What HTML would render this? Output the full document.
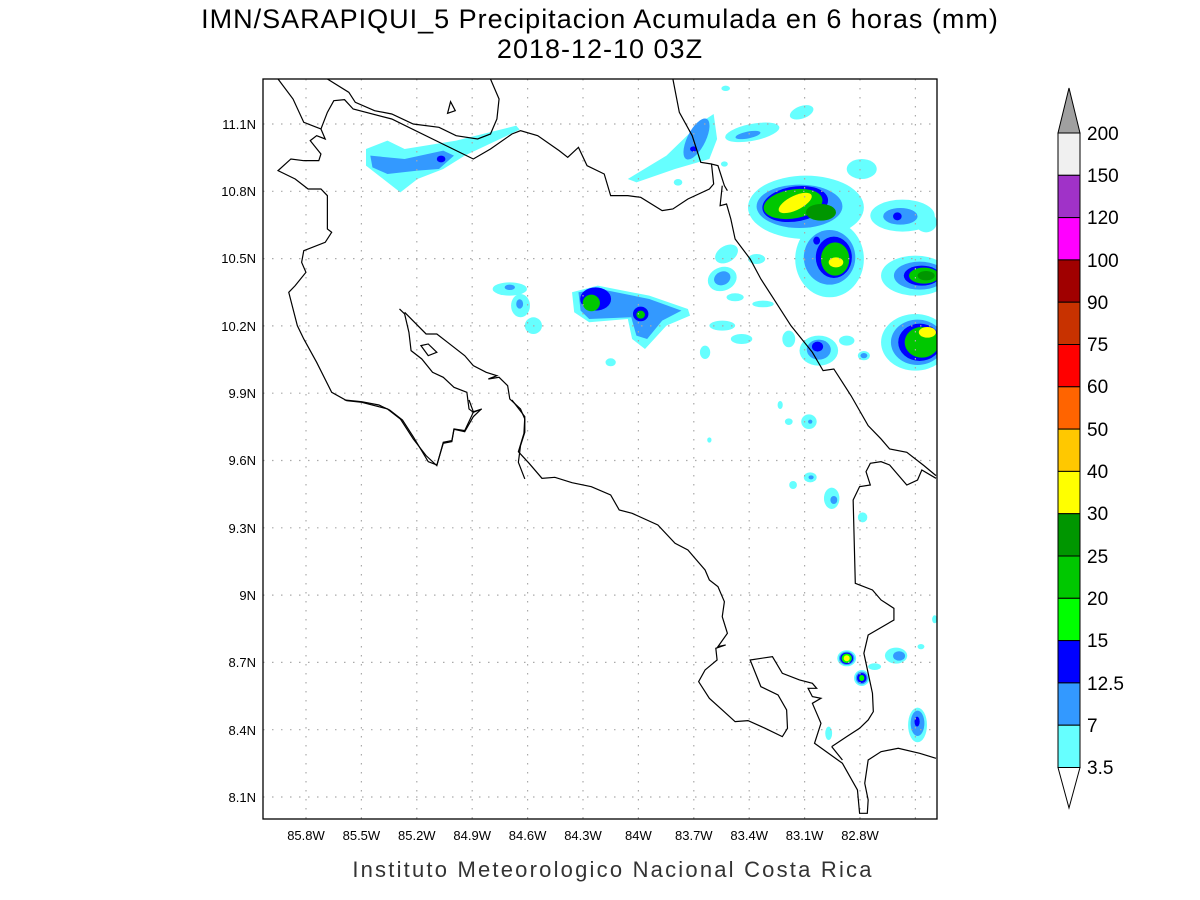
<!DOCTYPE html>
<html><head><meta charset="utf-8"><style>
html,body{margin:0;padding:0;background:#fff;}
svg{display:block;}
text{font-family:"Liberation Sans",sans-serif;}
</style></head><body>
<svg width="1200" height="900" viewBox="0 0 1200 900" xmlns="http://www.w3.org/2000/svg">
<rect width="1200" height="900" fill="#fff"/>
<text x="600" y="28" font-size="27" text-anchor="middle" fill="#000" letter-spacing="1">IMN/SARAPIQUI_5 Precipitacion Acumulada en 6 horas (mm)</text>
<text x="600" y="58" font-size="27" text-anchor="middle" fill="#000" letter-spacing="1">2018-12-10 03Z</text>

<defs><clipPath id="c"><rect x="263" y="79" width="674" height="740"/></clipPath></defs>
<g clip-path="url(#c)">
<g transform="translate(263,79) scale(0.4292,0.3333)">
<g fill="#66ffff">
<polygon points="240,210 290,185 330,210 450,185 590,140 598,152 470,230 420,270 360,300 320,340 280,300 240,260"/>
<polygon points="850,300 940,230 1020,130 1050,105 1058,180 1040,240 960,270 870,310"/>
<ellipse cx="1140" cy="160" rx="65" ry="25" transform="rotate(-15 1140 160)"/>
<ellipse cx="1255" cy="100" rx="30" ry="18" transform="rotate(-30 1255 100)"/>
<ellipse cx="1395" cy="270" rx="35" ry="30"/>
<ellipse cx="1265" cy="385" rx="135" ry="95"/>
<ellipse cx="1320" cy="540" rx="80" ry="115"/>
<ellipse cx="1520" cy="590" rx="80" ry="60"/>
<ellipse cx="1520" cy="790" rx="80" ry="85"/>
<ellipse cx="1490" cy="410" rx="75" ry="48"/>
<polygon points="720,640 780,620 900,650 990,690 995,710 940,740 890,810 860,780 850,720 760,730 725,700"/>
<ellipse cx="575" cy="630" rx="40" ry="20"/>
<ellipse cx="600" cy="680" rx="22" ry="35"/>
<ellipse cx="630" cy="740" rx="20" ry="25"/>
<ellipse cx="1080" cy="525" rx="22" ry="32" transform="rotate(40 1080 525)"/>
<ellipse cx="1070" cy="600" rx="32" ry="38" transform="rotate(30 1070 600)"/>
<ellipse cx="1100" cy="655" rx="20" ry="12"/>
<ellipse cx="1150" cy="540" rx="20" ry="15"/>
<ellipse cx="1165" cy="675" rx="25" ry="10"/>
<ellipse cx="1070" cy="740" rx="30" ry="15"/>
<ellipse cx="1115" cy="780" rx="25" ry="15"/>
<ellipse cx="1030" cy="820" rx="12" ry="20"/>
<ellipse cx="1225" cy="780" rx="15" ry="25"/>
<ellipse cx="1295" cy="815" rx="45" ry="45"/>
<ellipse cx="1360" cy="785" rx="18" ry="15"/>
<ellipse cx="1400" cy="830" rx="14" ry="14"/>
<ellipse cx="810" cy="850" rx="12" ry="12"/>
<ellipse cx="1078" cy="28" rx="10" ry="8"/>
<ellipse cx="967" cy="310" rx="10" ry="10"/>
<ellipse cx="1075" cy="255" rx="8" ry="8"/>
<ellipse cx="1545" cy="430" rx="25" ry="30"/>
</g>
<g fill="#3399ff">
<polygon points="250,230 330,240 420,215 445,230 410,270 360,275 290,285 255,265"/>
<ellipse cx="1010" cy="180" rx="22" ry="65" transform="rotate(20 1010 180)"/>
<ellipse cx="1130" cy="168" rx="30" ry="10" transform="rotate(-15 1130 168)"/>
<ellipse cx="1250" cy="382" rx="100" ry="65"/>
<ellipse cx="1320" cy="535" rx="60" ry="82"/>
<ellipse cx="1530" cy="590" rx="60" ry="42"/>
<ellipse cx="1525" cy="790" rx="62" ry="68"/>
<ellipse cx="1485" cy="412" rx="40" ry="25"/>
<polygon points="735,640 785,630 900,660 975,695 930,725 895,780 870,770 858,715 760,720 740,695"/>
<ellipse cx="1070" cy="598" rx="18" ry="22" transform="rotate(30 1070 598)"/>
<ellipse cx="1295" cy="812" rx="28" ry="30"/>
<ellipse cx="1400" cy="830" rx="8" ry="8"/>
<ellipse cx="575" cy="625" rx="12" ry="8"/>
<ellipse cx="598" cy="675" rx="8" ry="14"/>
</g>
<g fill="#0000ff">
<ellipse cx="415" cy="240" rx="10" ry="10"/>
<ellipse cx="1003" cy="210" rx="8" ry="8"/>
<ellipse cx="1240" cy="375" rx="78" ry="52" transform="rotate(-15 1240 375)"/>
<ellipse cx="1330" cy="535" rx="42" ry="62"/>
<ellipse cx="1535" cy="590" rx="42" ry="30"/>
<ellipse cx="1530" cy="790" rx="50" ry="56"/>
<ellipse cx="1478" cy="412" rx="10" ry="12"/>
<ellipse cx="775" cy="660" rx="36" ry="35"/>
<ellipse cx="880" cy="705" rx="18" ry="22"/>
<ellipse cx="1292" cy="803" rx="13" ry="15"/>
<ellipse cx="1290" cy="485" rx="8" ry="12"/>
</g>
<g fill="#00c800">
<ellipse cx="1235" cy="375" rx="70" ry="43" transform="rotate(-15 1235 375)"/>
<ellipse cx="1333" cy="540" rx="33" ry="50"/>
<ellipse cx="1540" cy="590" rx="35" ry="24"/>
<ellipse cx="1535" cy="790" rx="40" ry="46"/>
<ellipse cx="765" cy="672" rx="20" ry="25"/>
<ellipse cx="880" cy="707" rx="10" ry="12"/>
</g>
<g fill="#009600">
<ellipse cx="1300" cy="400" rx="35" ry="25"/>
<ellipse cx="1545" cy="590" rx="20" ry="14"/>
</g>
<g fill="#ffff00">
<ellipse cx="1240" cy="372" rx="45" ry="20" transform="rotate(-35 1240 372)"/>
<ellipse cx="1335" cy="550" rx="17" ry="15"/>
<ellipse cx="1548" cy="760" rx="20" ry="16"/>
</g>
</g>
<g transform="translate(263,400) scale(0.4292,0.3333)">
<g fill="#66ffff">
<ellipse cx="1205" cy="15" rx="6" ry="12"/>
<ellipse cx="1225" cy="65" rx="9" ry="10"/>
<ellipse cx="1272" cy="65" rx="18" ry="22"/>
<ellipse cx="1040" cy="120" rx="5" ry="8"/>
<ellipse cx="1275" cy="232" rx="15" ry="15"/>
<ellipse cx="1235" cy="255" rx="9" ry="12"/>
<ellipse cx="1325" cy="295" rx="18" ry="32"/>
<ellipse cx="1397" cy="352" rx="11" ry="15"/>
<ellipse cx="1360" cy="775" rx="22" ry="24"/>
<ellipse cx="1395" cy="834" rx="18" ry="24"/>
<ellipse cx="1475" cy="767" rx="26" ry="24"/>
<ellipse cx="1425" cy="800" rx="15" ry="10"/>
<ellipse cx="1525" cy="975" rx="22" ry="52"/>
<ellipse cx="1318" cy="1000" rx="8" ry="20"/>
<ellipse cx="1533" cy="740" rx="8" ry="8"/>
<ellipse cx="1565" cy="658" rx="6" ry="12"/>
</g>
<g fill="#3399ff">
<ellipse cx="1275" cy="65" rx="5" ry="6"/>
<ellipse cx="1277" cy="232" rx="6" ry="6"/>
<ellipse cx="1330" cy="300" rx="8" ry="12"/>
<ellipse cx="1360" cy="775" rx="18" ry="20"/>
<ellipse cx="1395" cy="834" rx="14" ry="19"/>
<ellipse cx="1482" cy="768" rx="14" ry="14"/>
<ellipse cx="1525" cy="970" rx="16" ry="38"/>
</g>
<g fill="#0000ff">
<ellipse cx="1360" cy="775" rx="15" ry="17"/>
<ellipse cx="1395" cy="834" rx="11" ry="15"/>
<ellipse cx="1524" cy="965" rx="6" ry="15"/>
</g>
<g fill="#00ff00">
<ellipse cx="1360" cy="775" rx="12" ry="14"/>
<ellipse cx="1395" cy="834" rx="6" ry="9"/>
</g>
<ellipse cx="1360" cy="775" rx="7" ry="9" fill="#ffff00"/>
</g>

<g stroke="#aaa" stroke-width="1.2" stroke-dasharray="1.5,7.5" fill="none">
<path d="M306,79V819M361.4,79V819M416.8,79V819M472.2,79V819M527.6,79V819M583,79V819M638.4,79V819M693.8,79V819M749.2,79V819M804.6,79V819M860,79V819M915.4,79V819"/>
<path d="M263,124H937M263,191.3H937M263,258.6H937M263,325.9H937M263,393.2H937M263,460.5H937M263,527.8H937M263,595.1H937M263,662.4H937M263,729.7H937M263,797H937"/>
</g>

<g transform="translate(263,79) scale(0.4292,0.3333)" fill="none" stroke="#000" stroke-width="1.2">
<polyline vector-effect="non-scaling-stroke" points="35,0 70,60 95,130 135,150 145,180 125,170 110,185 135,225 130,245 95,245 65,240 35,275 75,300 105,330 135,330 150,350 150,450 160,460 145,490 95,515 90,550 100,580 75,620 60,640 70,690 80,740 95,780 125,850 160,940 195,965 230,970 290,990 320,1020 350,1080 380,1130 405,1160 420,1090 440,1085 445,1050 470,1055 490,1000 510,990"/>
<polyline vector-effect="non-scaling-stroke" points="135,150 150,100 165,65 190,62 210,90 300,120 490,240 530,210 580,165 600,155 640,170 690,215 710,235 735,205 755,260 795,285 810,350 850,350 880,355 930,395 955,390 990,360 1040,330 1050,315 1045,255 1060,260 1075,320 1082,335"/>
<polyline vector-effect="non-scaling-stroke" points="150,0 200,40 215,70 260,95 300,105 350,135 410,145 450,170 500,180 530,165 545,120 550,60 530,0"/>
<polygon vector-effect="non-scaling-stroke" points="437,68 448,95 430,103"/>
<polyline vector-effect="non-scaling-stroke" points="955,0 970,100 1000,170 1020,250 1045,255"/>
<polyline vector-effect="non-scaling-stroke" points="1070,320 1065,380 1080,375 1090,420 1100,480 1135,540 1160,600 1190,660 1230,740 1280,820 1305,875 1330,870 1370,950 1410,1040 1440,1080 1460,1110 1500,1120 1540,1160 1568,1190"/>
<polyline vector-effect="non-scaling-stroke" points="318,690 330,705 340,760 345,815 370,840 395,880 420,895 445,925 475,940 480,990 490,1000"/>
<polyline vector-effect="non-scaling-stroke" points="330,700 380,765 405,765 430,790 470,830 490,860 520,880 545,890 525,900 550,895 570,920 575,960 600,990 610,1020 610,1060 600,1100 595,1150 610,1200"/>
<polygon vector-effect="non-scaling-stroke" points="368,800 385,795 405,820 385,830"/>
</g>
<g transform="translate(263,400) scale(0.4292,0.3333)" fill="none" stroke="#000" stroke-width="1.2">
<polyline vector-effect="non-scaling-stroke" points="190,0 230,5 270,15 295,30 325,60 350,110 385,185 405,195 420,130 440,125 445,88 470,95 490,50 508,28 490,35 480,0"/>
<polyline vector-effect="non-scaling-stroke" points="580,0 610,50 608,100 595,155 620,190 650,235 680,232 720,248 765,260 810,285 830,330 860,340 920,375 960,430 990,450 1010,480 1030,510 1040,540 1060,560 1075,605 1070,650 1082,700 1060,740 1078,735 1055,745 1058,780 1030,810 1015,845 1040,895 1070,930 1100,965 1130,962 1170,985 1210,1010 1222,985 1220,930 1200,885 1160,860 1135,780 1187,770 1210,820 1250,840 1280,850 1290,865 1270,865 1280,890 1300,895 1280,910 1300,970 1285,1030 1350,1090 1385,1170 1390,1240 1408,1240 1410,1200 1402,1150 1410,1080 1440,1055 1480,1045 1530,1060 1568,1075"/>
<polyline vector-effect="non-scaling-stroke" points="1325,1040 1360,1010 1390,985 1410,960 1422,935 1420,880 1410,820 1400,760 1410,705 1470,660 1470,625 1440,600 1420,570 1380,550 1375,300 1390,260 1415,255 1405,215 1415,190 1440,185 1460,195 1500,255 1525,240 1535,210 1568,235"/>
<polyline vector-effect="non-scaling-stroke" points="1325,1040 1350,1080"/>
</g>
</g>
<rect x="263" y="79" width="674" height="740" fill="none" stroke="#000" stroke-width="1.3"/>

<g font-size="13" fill="#000" text-anchor="end">
<text x="256" y="129">11.1N</text><text x="256" y="196">10.8N</text><text x="256" y="263">10.5N</text>
<text x="256" y="331">10.2N</text><text x="256" y="398">9.9N</text><text x="256" y="465">9.6N</text>
<text x="256" y="533">9.3N</text><text x="256" y="600">9N</text><text x="256" y="667">8.7N</text>
<text x="256" y="735">8.4N</text><text x="256" y="802">8.1N</text>
</g>
<g font-size="13" fill="#000" text-anchor="middle">
<text x="306" y="840">85.8W</text><text x="361.4" y="840">85.5W</text><text x="416.8" y="840">85.2W</text>
<text x="472.2" y="840">84.9W</text><text x="527.6" y="840">84.6W</text><text x="583" y="840">84.3W</text>
<text x="638.4" y="840">84W</text><text x="693.8" y="840">83.7W</text><text x="749.2" y="840">83.4W</text>
<text x="804.6" y="840">83.1W</text><text x="860" y="840">82.8W</text>
</g>
<text x="613" y="877" font-size="22" text-anchor="middle" fill="#333" letter-spacing="2.2">Instituto Meteorologico Nacional Costa Rica</text>

<g stroke="#000" stroke-width="1">
<polygon points="1058,133 1080,133 1069,88" fill="#a0a0a0"/>
<rect x="1058" y="133" width="22" height="42.3" fill="#f0f0f0"/>
<rect x="1058" y="175.3" width="22" height="42.3" fill="#a032c8"/>
<rect x="1058" y="217.6" width="22" height="42.3" fill="#ff00ff"/>
<rect x="1058" y="259.9" width="22" height="42.3" fill="#a00000"/>
<rect x="1058" y="302.2" width="22" height="42.3" fill="#c83200"/>
<rect x="1058" y="344.5" width="22" height="42.3" fill="#ff0000"/>
<rect x="1058" y="386.8" width="22" height="42.3" fill="#ff6400"/>
<rect x="1058" y="429.1" width="22" height="42.3" fill="#ffc800"/>
<rect x="1058" y="471.4" width="22" height="42.3" fill="#ffff00"/>
<rect x="1058" y="513.7" width="22" height="42.3" fill="#009600"/>
<rect x="1058" y="556" width="22" height="42.3" fill="#00c800"/>
<rect x="1058" y="598.3" width="22" height="42.3" fill="#00ff00"/>
<rect x="1058" y="640.6" width="22" height="42.3" fill="#0000ff"/>
<rect x="1058" y="682.9" width="22" height="42.3" fill="#3399ff"/>
<rect x="1058" y="725.2" width="22" height="42.3" fill="#66ffff"/>
<polygon points="1058,767.5 1080,767.5 1069,808" fill="#fff"/>
</g>
<g font-size="19" fill="#000">
<text x="1087" y="140">200</text><text x="1087" y="182">150</text><text x="1087" y="224">120</text>
<text x="1087" y="267">100</text><text x="1087" y="309">90</text><text x="1087" y="351">75</text>
<text x="1087" y="393">60</text><text x="1087" y="436">50</text><text x="1087" y="478">40</text>
<text x="1087" y="520">30</text><text x="1087" y="563">25</text><text x="1087" y="605">20</text>
<text x="1087" y="647">15</text><text x="1087" y="690">12.5</text><text x="1087" y="732">7</text>
<text x="1087" y="774">3.5</text>
</g>
</svg>
</body></html>
